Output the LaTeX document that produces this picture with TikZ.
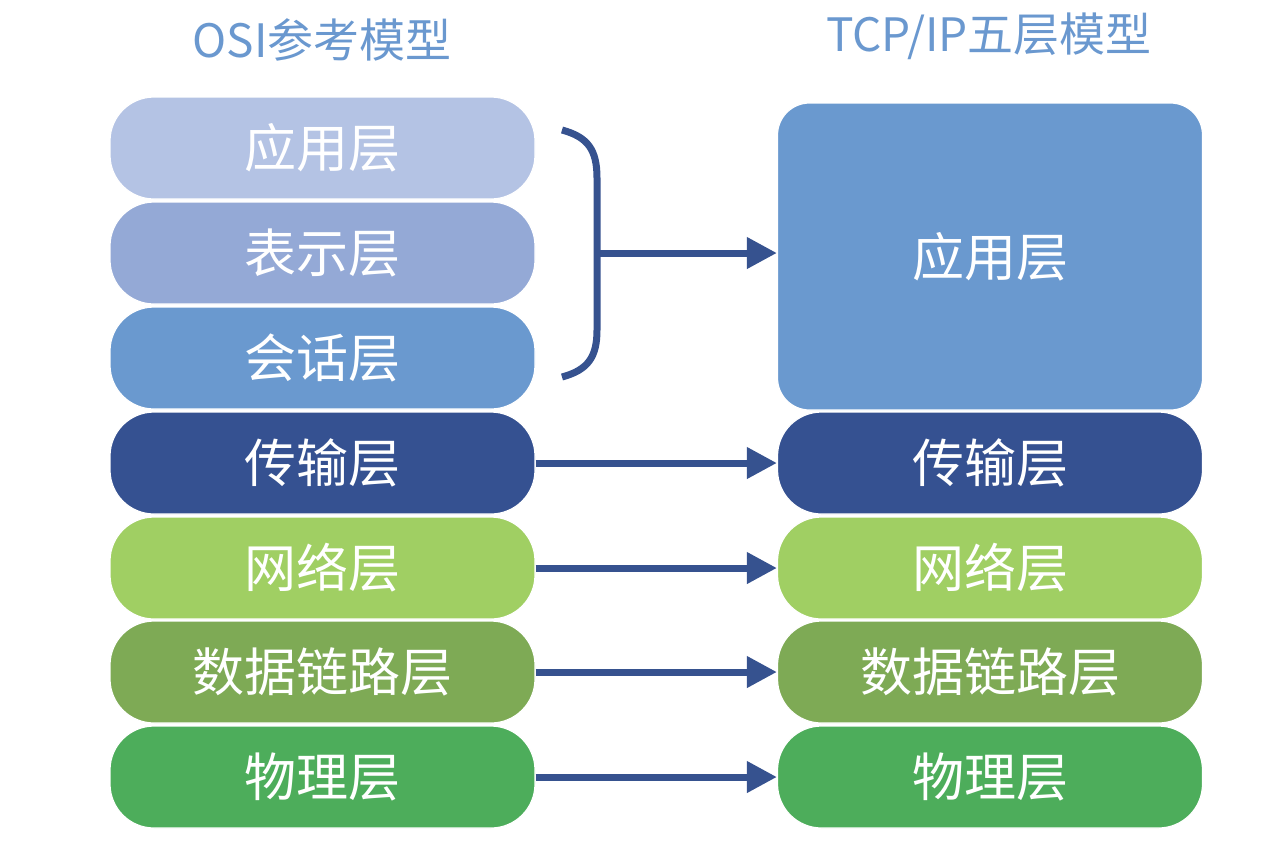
\documentclass[tikz,border=0pt]{standalone}
\usepackage{fontspec}
\setmainfont{Noto Sans CJK SC}
\usetikzlibrary{arrows.meta}
\definecolor{cA}{HTML}{B4C3E4}
\definecolor{cB}{HTML}{94A9D6}
\definecolor{cC}{HTML}{6A99CF}
\definecolor{cD}{HTML}{355191}
\definecolor{cE}{HTML}{A0CF63}
\definecolor{cF}{HTML}{7EAA55}
\definecolor{cG}{HTML}{4DAD5B}
\definecolor{arr}{HTML}{36528F}
\definecolor{ttl}{HTML}{6A98CF}
\tikzset{
  layer/.style={rounded corners=22pt, minimum width=212.5pt, minimum height=51pt,
    draw=white, line width=0.6pt, text=white, font=\fontsize{26}{30}\selectfont, inner sep=0pt},
  ttlstyle/.style={text=ttl, font=\fontsize{23}{27}\selectfont, inner sep=0pt},
  link/.style={arr, line width=3.5pt, -{Triangle[length=15pt,width=15pt]}},
}
\begin{document}
\begin{tikzpicture}[x=0.5pt,y=-0.5pt]
\useasboundingbox (0,0) rectangle (1284,848);
\node[ttlstyle] (t1) at (322,40) {OSI参考模型};
\node[ttlstyle] (t2) at (989,36) {TCP/IP五层模型};
% left
\node[layer, fill=cA] (l1) at (322.5,148) {应用层};
\node[layer, fill=cB] (l2) at (322.5,253) {表示层};
\node[layer, fill=cC] (l3) at (322.5,358) {会话层};
\node[layer, fill=cD] (l4) at (322.5,463) {传输层};
\node[layer, fill=cE] (l5) at (322.5,568) {网络层};
\node[layer, fill=cF] (l6) at (322.5,672) {数据链路层};
\node[layer, fill=cG] (l7) at (322.5,777) {物理层};
% right
\node[layer, fill=cC, minimum height=153.5pt, rounded corners=16pt] (r1) at (990,256.5) {应用层};
\node[layer, fill=cD] (r4) at (990,463) {传输层};
\node[layer, fill=cE] (r5) at (990,568) {网络层};
\node[layer, fill=cF] (r6) at (990,672) {数据链路层};
\node[layer, fill=cG] (r7) at (990,777) {物理层};
% brace
\coordinate (bt) at (562,130);
\coordinate (bb) at (562,377);
\coordinate (bm) at (597,253);
\draw[arr, line width=3.5pt] (bt) .. controls (588,137) and (597,150) .. (597,178) -- (597,330) .. controls (597,357) and (588,370) .. (bb);
\draw[link] (bm) -- (r1.west |- bm);
\draw[link] (l4.east) -- (r4.west);
\draw[link] (l5.east) -- (r5.west);
\draw[link] (l6.east) -- (r6.west);
\draw[link] (l7.east) -- (r7.west);
\end{tikzpicture}
\end{document}
